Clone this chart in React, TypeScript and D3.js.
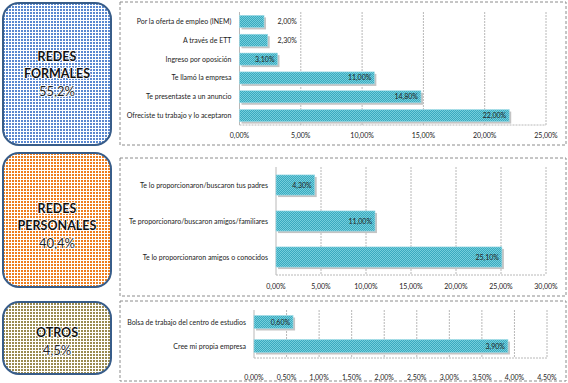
import React from "react";
import * as d3 from "d3";

const formalCats = [
  "Por la oferta de empleo (INEM)",
  "A través de ETT",
  "Ingreso por oposición",
  "Te llamó la empresa",
  "Te presentaste a un anuncio",
  "Ofreciste tu trabajo y lo aceptaron",
];
const formalVals = [2.0, 2.3, 3.1, 11.0, 14.8, 22.0];
const formalTicks = [0, 5, 10, 15, 20, 25];

const personalCats = [
  "Te lo proporcionaron/buscaron tus padres",
  "Te proporcionaro/buscaron amigos/familiares",
  "Te lo proporcionaron amigos o conocidos",
];
const personalVals = [4.3, 11.0, 25.1];
const personalTicks = [0, 5, 10, 15, 20, 25, 30];

const otrosCats = ["Bolsa de trabajo del centro de estudios", "Cree mi propia empresa"];
const otrosVals = [0.6, 3.9];
const otrosTicks = [0, 0.5, 1, 1.5, 2, 2.5, 3, 3.5, 4, 4.5];

const groupTitles = [["REDES", "FORMALES"], ["REDES", "PERSONALES"], ["OTROS"]];
const groupShares = ["55,2%", "40,4%", "4,5%"];

const fmt = (v: number) => v.toFixed(2).replace(".", ",") + "%";
const FONT = "Lato, 'Open Sans', sans-serif";

type PanelProps = {
  cats: string[];
  vals: number[];
  ticks: number[];
  box: [number, number, number, number];
  x0: number;
  x1: number;
  top: number;
  bottom: number;
  pad: number;
  tickY: number;
  minInside: number;
};

function Panel({ cats, vals, ticks, box, x0, x1, top, bottom, pad, tickY, minInside }: PanelProps) {
  const x = d3.scaleLinear().domain([ticks[0], ticks[ticks.length - 1]]).range([x0, x1]);
  const y = d3.scaleBand<string>().domain(cats).range([top, bottom]).paddingInner(pad).paddingOuter(pad / 2);
  return (
    <g>
      <rect x={box[0]} y={box[1]} width={box[2]} height={box[3]} fill="white" stroke="#8c8c8c" strokeWidth={1} strokeDasharray="3 2" />
      {ticks.map((t) => (
        <line key={"g" + t} x1={x(t)} x2={x(t)} y1={top} y2={bottom} stroke="#b8b8b8" strokeWidth={1} strokeDasharray={t === 0 ? undefined : "2 1"} />
      ))}
      <line x1={x0} x2={x1} y1={bottom} y2={bottom} stroke="#b8b8b8" strokeDasharray="2 1" />
      {ticks.map((t) => (
        <text key={"t" + t} x={x(t)} y={tickY} textAnchor="middle" fontSize={7} fontFamily={FONT} fill="#222">
          {fmt(t)}
        </text>
      ))}
      {cats.map((c, i) => {
        const by = y(c)!;
        const bw = x(vals[i]) - x0;
        const inside = bw >= minInside;
        return (
          <g key={c}>
            <rect x={x0 + 2} y={by + 2} width={bw} height={y.bandwidth()} fill="#c4c4c4" />
            <rect x={x0} y={by} width={bw} height={y.bandwidth()} fill="url(#barPat)" stroke="#9fdbe6" strokeWidth={0.6} />
            <text x={x0 - 8} y={by + y.bandwidth() / 2 + 2.5} textAnchor="end" fontSize={7} fontFamily={FONT} fill="#222">
              {c}
            </text>
            <text
              x={inside ? x(vals[i]) - 3 : x0 + 38}
              y={by + y.bandwidth() / 2 + 2.5}
              textAnchor={inside ? "end" : "start"}
              fontSize={7}
              fontFamily={FONT}
              fill="#222"
            >
              {fmt(vals[i])}
            </text>
          </g>
        );
      })}
    </g>
  );
}

function LabelBox({ y0, h, pat, lines, share, cy }: { y0: number; h: number; pat: string; lines: string[]; share: string; cy: number }) {
  const n = lines.length + 1;
  const startY = cy - ((n - 1) * 17.5) / 2;
  return (
    <g>
      <rect x={3} y={y0} width={108} height={h} rx={16} ry={16} fill={`url(#${pat})`} stroke="#385d8a" strokeWidth={2} />
      {lines.map((l, i) => (
        <text key={l} x={57} y={startY + i * 17.5 + 5} textAnchor="middle" fontSize={12.5} fontWeight="bold" fontFamily={FONT} fill="#111" stroke="white" strokeWidth={1.6} paintOrder="stroke">
          {l}
        </text>
      ))}
      <text x={57} y={startY + lines.length * 17.5 + 5} textAnchor="middle" fontSize={13} fontFamily={FONT} fill="#222" stroke="white" strokeWidth={1.6} paintOrder="stroke">
        {share}
      </text>
    </g>
  );
}

export default function App() {
  return (
    <svg width={568} height={383} style={{ position: "absolute", left: 0, top: 0 }}>
      <defs>
        <pattern id="barPat" width={2} height={2} patternUnits="userSpaceOnUse">
          <rect width={2} height={2} fill="#3aa9bf" />
          <rect width={1} height={1} fill="#74cfdc" />
          <rect x={1} y={1} width={1} height={1} fill="#74cfdc" />
        </pattern>
        <pattern id="dotBlue" width={3} height={3} patternUnits="userSpaceOnUse">
          <rect width={3} height={3} fill="white" />
          <rect width={2} height={2} fill="#5a88d0" />
        </pattern>
        <pattern id="dotOrange" width={3} height={3} patternUnits="userSpaceOnUse">
          <rect width={3} height={3} fill="white" />
          <rect width={2} height={2} fill="#ee7d1e" />
        </pattern>
        <pattern id="dotOlive" width={3} height={3} patternUnits="userSpaceOnUse">
          <rect width={3} height={3} fill="white" />
          <rect width={2} height={2} fill="#9a8a50" />
        </pattern>
      </defs>
      <rect width={568} height={383} fill="white" />
      <LabelBox y0={3} h={142} pat="dotBlue" lines={groupTitles[0]} share={groupShares[0]} cy={73} />
      <LabelBox y0={153} h={134} pat="dotOrange" lines={groupTitles[1]} share={groupShares[1]} cy={225} />
      <LabelBox y0={302} h={72} pat="dotOlive" lines={groupTitles[2]} share={groupShares[2]} cy={341} />
      <Panel cats={formalCats} vals={formalVals} ticks={formalTicks} box={[120, 2, 446, 143]} x0={239.5} x1={546} top={12} bottom={125} pad={0.36} tickY={137.5} minInside={30} />
      <Panel cats={personalCats} vals={personalVals} ticks={personalTicks} box={[120, 158, 446, 138]} x0={276} x1={546} top={167} bottom={275} pad={0.44} tickY={288.5} minInside={30} />
      <Panel cats={otrosCats} vals={otrosVals} ticks={otrosTicks} box={[120, 301, 446, 80]} x0={254} x1={547} top={310} bottom={358} pad={0.46} tickY={379.5} minInside={30} />
    </svg>
  );
}
